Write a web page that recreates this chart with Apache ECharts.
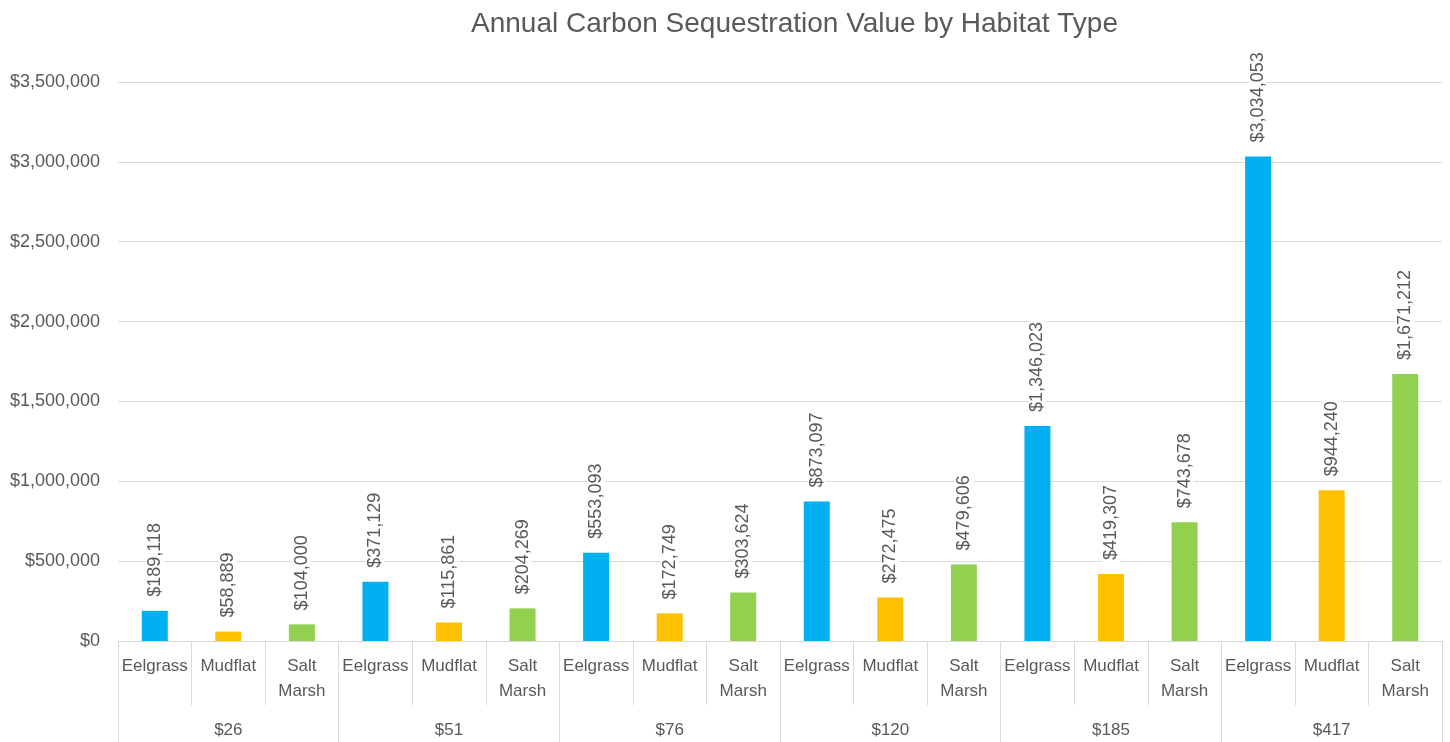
<!DOCTYPE html>
<html>
<head>
<meta charset="utf-8">
<script src="https://cdn.jsdelivr.net/npm/echarts@6/dist/echarts.min.js"></script>
<style>
html,body{margin:0;padding:0;background:#fff;}
#chart{width:1450px;height:742px;}
</style>
</head>
<body>
<div id="chart"></div>
<script>
// ---- data ----
const groups = ['$26', '$51', '$76', '$120', '$185', '$417'];
const habitats = ['Eelgrass', 'Mudflat', 'Salt Marsh'];
const eelgrass = [189118, 371129, 553093, 873097, 1346023, 3034053];
const mudflat = [58889, 115861, 172749, 272475, 419307, 944240];
const saltMarsh = [104000, 204269, 303624, 479606, 743678, 1671212];
const yTicks = [0, 500000, 1000000, 1500000, 2000000, 2500000, 3000000, 3500000];
const colors = {'Eelgrass': '#00B0F0', 'Mudflat': '#FFC000', 'Salt Marsh': '#92D050'};

// build flat categories
const categories = [];
const values = [];
const valueSets = [eelgrass, mudflat, saltMarsh];
groups.forEach((g, gi) => {
  habitats.forEach((h, hi) => {
    categories.push(h);
    values.push({value: valueSets[hi][gi], itemStyle: {color: colors[h]}});
  });
});

const money = v => '$' + Number(v).toLocaleString('en-US');
const txt = '#595959';
const line = '#D9D9D9';
const font = '"Liberation Sans", Arial, sans-serif';

const chart = echarts.init(document.getElementById('chart'), null, {renderer: 'canvas'});
chart.setOption({
  animation: false,
  backgroundColor: '#fff',
  textStyle: {fontFamily: font},
  title: {
    text: 'Annual Carbon Sequestration Value by Habitat Type',
    left: 466, top: 5,
    textStyle: {fontSize: 28, fontWeight: 'normal', color: txt, fontFamily: font}
  },
  grid: {left: 118, right: 8, top: 82, bottom: 101, containLabel: false},
  xAxis: [
    {
      type: 'category',
      data: categories,
      position: 'bottom',
      boundaryGap: true,
      axisLine: {show: true, lineStyle: {color: line, width: 1}},
      axisTick: {show: true, interval: 0, length: 64, lineStyle: {color: line}},
      axisLabel: {
        interval: 0, margin: 13, fontSize: 17, color: txt, lineHeight: 25,
        fontFamily: font,
        formatter: v => v.replace(' ', '\n')
      }
    },
    {
      type: 'category',
      data: groups,
      position: 'bottom',
      offset: 0,
      boundaryGap: true,
      axisLine: {show: false},
      axisTick: {show: true, interval: 0, length: 101, lineStyle: {color: line}},
      axisLabel: {interval: 0, margin: 81, fontSize: 17, color: txt, fontFamily: font}
    }
  ],
  yAxis: {
    type: 'value',
    min: yTicks[0], max: yTicks[yTicks.length - 1], interval: 500000,
    axisLine: {show: false},
    axisTick: {show: false},
    splitLine: {lineStyle: {color: line, width: 1}},
    axisLabel: {fontSize: 18, color: txt, margin: 18, fontFamily: font, formatter: money}
  },
  series: [{
    type: 'bar',
    xAxisIndex: 0,
    data: values,
    barWidth: 26,
    label: {
      show: true,
      position: 'top',
      rotate: 90,
      align: 'left',
      verticalAlign: 'middle',
      distance: 12,
      fontSize: 18,
      color: txt,
      fontFamily: font,
      backgroundColor: '#fff',
      padding: [0, 2, 0, 2],
      formatter: p => money(p.value)
    }
  }]
});
</script>
</body>
</html>
